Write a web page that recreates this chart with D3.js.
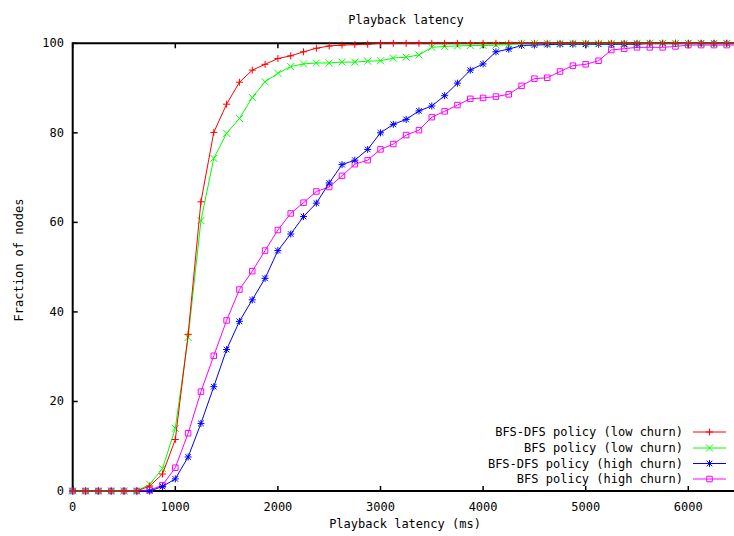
<!DOCTYPE html>
<html>
<head>
<meta charset="utf-8">
<script src="https://cdn.jsdelivr.net/npm/d3@7"></script>
<style>
  html, body { margin: 0; padding: 0; background: #fff; }
  svg { display: block; }
  text { font-family: "DejaVu Sans Mono", "Liberation Mono", monospace; font-size: 12px; fill: #000; }
</style>
</head>
<body>
<svg id="chart" width="734" height="536"></svg>
<script>
// ---------------- data ----------------
const latency = [0,125,250,375,500,625,750,875,1000,1125,1250,1375,1500,1625,1750,1875,2000,2125,2250,2375,
  2500,2625,2750,2875,3000,3125,3250,3375,3500,3625,3750,3875,4000,4125,4250,4375,4500,4625,4750,4875,
  5000,5125,5250,5375,5500,5625,5750,5875,6000,6125,6250,6375,6500];

const bfsDfsLow = [0,0,0,0,0,0,1.1,3.8,11.5,35,64.6,80.1,86.4,91.3,94.0,95.3,96.6,97.2,98.1,98.9,
  99.4,99.6,99.7,99.8,100,100,100,100,100,100,100,100,100,100,100,100,100,100,100,100,
  100,100,100,100,100,100,100,100,100,100,100,100,100];

const bfsLow = [0,0,0,0,0,0,1.5,5.0,14,34.3,60.4,74.3,79.9,83.2,87.9,91.4,93.3,94.8,95.4,95.6,
  95.6,95.8,95.8,96.0,96.1,96.7,96.9,97.4,99.1,99.3,99.4,99.5,99.5,99.6,99.7,100,100,100,100,100,
  100,100,100,100,100,100,100,100,100,100,100,100,100];

const bfsDfsHigh = [0,0,0,0,0,0,0,1.0,2.7,7.6,15.1,23.3,31.6,37.9,42.7,47.5,53.7,57.4,61.3,64.3,
  68.8,72.9,73.9,76.3,80.0,81.9,83.0,84.9,86.0,88.3,91.1,94.0,95.4,98.1,98.7,99.5,99.6,99.7,99.8,99.8,
  99.8,99.8,99.8,99.8,99.8,100,100,100,100,100,100,100,100];

const bfsHigh = [0,0,0,0,0,0,0.2,1.3,5.2,12.9,22.2,30.2,38.1,45.0,49.1,53.7,58.3,62.0,64.4,66.9,
  67.9,70.4,73.0,73.9,76.3,77.5,79.5,80.6,83.5,84.8,86.2,87.6,87.8,88.1,88.6,90.5,92.1,92.3,93.7,95.0,
  95.3,96.1,98.5,98.8,99.1,99.1,99.1,99.3,99.6,99.6,99.6,99.6,99.6];

const seriesNames = ["BFS-DFS policy (low churn)", "BFS policy (low churn)",
                     "BFS-DFS policy (high churn)", "BFS policy (high churn)"];
const seriesColors = ["#ff0000", "#00ff00", "#0000ff", "#ff00ff"];
const seriesMarkers = ["plus", "cross", "star", "square"];
const seriesValues = [bfsDfsLow, bfsLow, bfsDfsHigh, bfsHigh];

const xTicks = [0,1000,2000,3000,4000,5000,6000];
const yTicks = [0,20,40,60,80,100];

const chartTitle = "Playback latency";
const xLabel = "Playback latency (ms)";
const yLabel = "Fraction of nodes";

// ---------------- layout ----------------
const svg = d3.select("#chart");
const x0 = 72.7, xPerK = 102.6;
const x = d3.scaleLinear().domain([0, 7000]).range([x0, x0 + 7 * xPerK]);
const y = d3.scaleLinear().domain([0, 100]).range([491, 43.3]);
const rightEdge = 740;

svg.append("defs").append("clipPath").attr("id", "plotclip")
  .append("rect").attr("x", 60).attr("y", 0).attr("width", 734).attr("height", 500);

// ---------------- series ----------------
function markerPath(type, s) {
  const h = s / 2;
  if (type === "plus") return `M${-h},0H${h}M0,${-h}V${h}`;
  if (type === "cross") return `M${-h},${-h}L${h},${h}M${-h},${h}L${h},${-h}`;
  if (type === "star") return `M${-h},0H${h}M0,${-h}V${h}M${-h*0.8},${-h*0.8}L${h*0.8},${h*0.8}M${-h*0.8},${h*0.8}L${h*0.8},${-h*0.8}`;
  return `M${-h+0.5},${-h+0.5}H${h-0.5}V${h-0.5}H${-h+0.5}Z`;
}

// ---------------- axes / border ----------------
const axG = svg.append("g");
axG.append("line").attr("x1", x0).attr("x2", rightEdge).attr("y1", y(0)).attr("y2", y(0))
  .attr("stroke", "#000").attr("stroke-width", 2);
axG.append("line").attr("x1", x0).attr("x2", rightEdge).attr("y1", y(100)).attr("y2", y(100))
  .attr("stroke", "#000").attr("stroke-width", 2);
axG.append("line").attr("x1", x0).attr("x2", x0).attr("y1", y(0) + 1).attr("y2", y(100) - 1)
  .attr("stroke", "#000").attr("stroke-width", 2);

xTicks.forEach(t => {
  axG.append("line").attr("x1", x(t)).attr("x2", x(t)).attr("y1", y(0)).attr("y2", y(0) - 5)
    .attr("stroke", "#000").attr("stroke-width", 1.5);
  axG.append("line").attr("x1", x(t)).attr("x2", x(t)).attr("y1", y(100)).attr("y2", y(100) + 5)
    .attr("stroke", "#000").attr("stroke-width", 1.5);
  axG.append("text").attr("x", x(t)).attr("y", 507).attr("text-anchor", "middle")
    .attr("dominant-baseline", "central").text(t);
});
yTicks.forEach(t => {
  axG.append("line").attr("x1", x0).attr("x2", x0 + 5).attr("y1", y(t)).attr("y2", y(t))
    .attr("stroke", "#000").attr("stroke-width", 1.5);
  axG.append("text").attr("x", 64).attr("y", y(t)).attr("text-anchor", "end")
    .attr("dominant-baseline", "central").text(t);
});

const plotG = svg.append("g").attr("clip-path", "url(#plotclip)");
const line = d3.line().x(d => x(d[0])).y(d => y(d[1]));

// draw in reverse so red ends on top
for (let k = seriesValues.length - 1; k >= 0; k--) {
  const pts = latency.map((t, i) => [t, seriesValues[k][i]]);
  const g = plotG.append("g");
  g.append("path").attr("d", line(pts)).attr("fill", "none")
    .attr("stroke", seriesColors[k]).attr("stroke-width", 1);
  g.selectAll("path.m").data(pts).join("path").attr("class", "m")
    .attr("transform", d => `translate(${x(d[0])},${y(d[1])})`)
    .attr("d", markerPath(seriesMarkers[k], seriesMarkers[k] === "square" ? 6.5 : 7))
    .attr("fill", "none").attr("stroke", seriesColors[k]).attr("stroke-width", 1);
}

// titles
svg.append("text").attr("x", 406).attr("y", 20).attr("text-anchor", "middle")
  .attr("dominant-baseline", "central").text(chartTitle);
svg.append("text").attr("x", 405).attr("y", 524).attr("text-anchor", "middle")
  .attr("dominant-baseline", "central").text(xLabel);
svg.append("text").attr("transform", "translate(19,260) rotate(-90)").attr("text-anchor", "middle")
  .attr("dominant-baseline", "central").text(yLabel);

// ---------------- legend ----------------
const legRows = [432, 448, 463.5, 479];
const leg = svg.append("g");
seriesNames.forEach((name, k) => {
  const ly = legRows[k];
  leg.append("text").attr("x", 683).attr("y", ly).attr("text-anchor", "end")
    .attr("dominant-baseline", "central").text(name);
  leg.append("line").attr("x1", 693).attr("x2", 726).attr("y1", ly).attr("y2", ly)
    .attr("stroke", seriesColors[k]).attr("stroke-width", 1);
  leg.append("path").attr("transform", `translate(709.5,${ly})`)
    .attr("d", markerPath(seriesMarkers[k], seriesMarkers[k] === "square" ? 6.5 : 7))
    .attr("fill", "none").attr("stroke", seriesColors[k]).attr("stroke-width", 1);
});
</script>
</body>
</html>
